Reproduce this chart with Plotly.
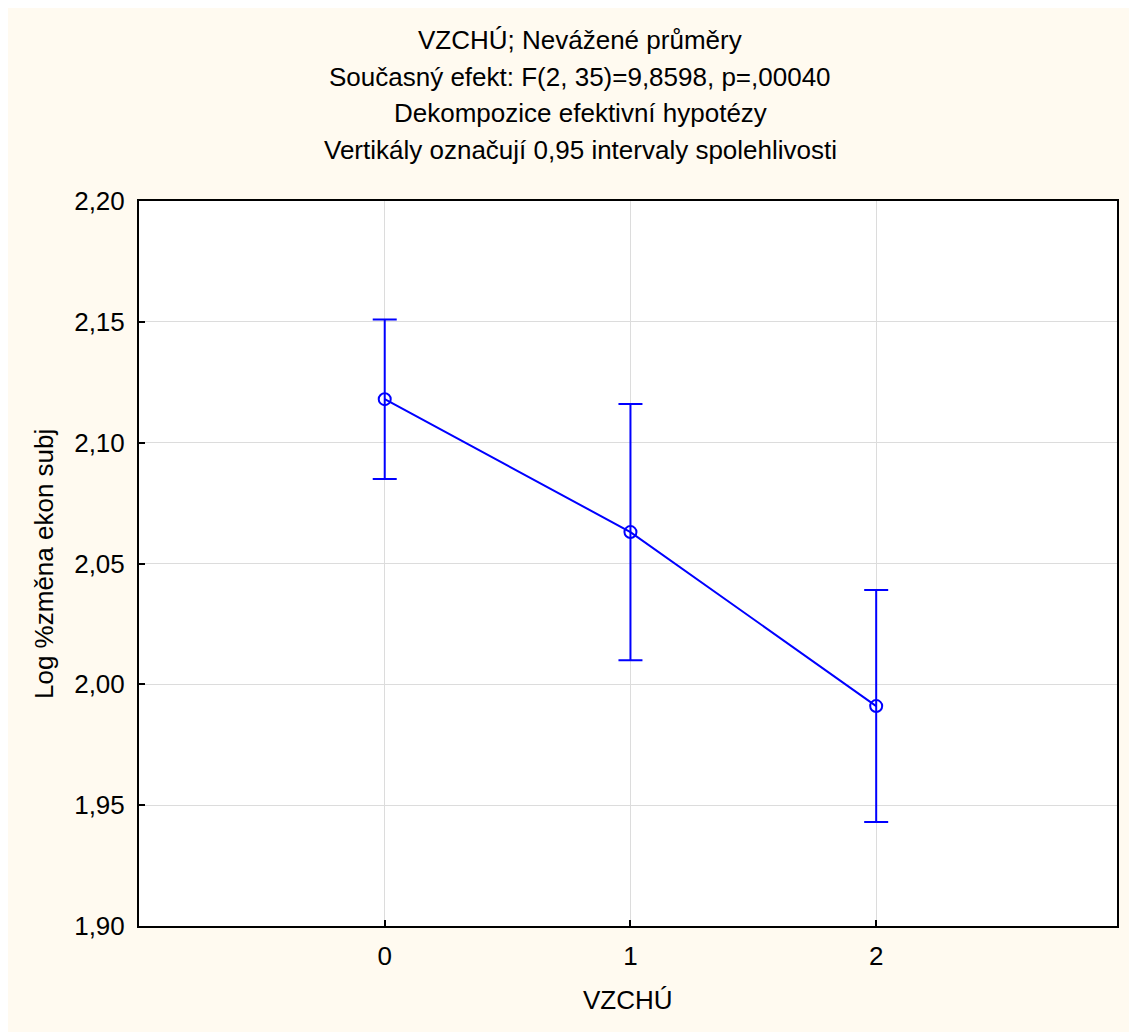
import plotly.graph_objects as go

# Data
categories = [0, 1, 2]
means = [2.118, 2.063, 1.991]
ci_half = [0.033, 0.053, 0.048]
y_ticks = [1.90, 1.95, 2.00, 2.05, 2.10, 2.15, 2.20]
title_lines = [
    "VZCHÚ; Nevážené průměry",
    "Současný efekt: F(2, 35)=9,8598, p=,00040",
    "Dekompozice efektivní hypotézy",
    "Vertikály označují 0,95 intervaly spolehlivosti",
]
x_title = "VZCHÚ"
y_title = "Log %změna ekon subj"

# page has an 8px body margin; figure coordinates = page - 8
OFF = 8
W, H = 1137, 1032
L, R, T, B = 139 - OFF, W - (1117 - OFF), 201 - OFF, H - (926 - OFF)
pw, ph = W - L - R, H - T - B
FONT = "Liberation Sans, Arial, sans-serif"
FS = 26
BLUE = "#0000FF"
CREAM = "#FFFAF0"

def px_to_paper_x(page_px):
    return (page_px - OFF - L) / pw

def py_to_paper_y(page_py):
    return (H - B - (page_py - OFF)) / ph

fig = go.Figure()
fig.add_trace(go.Scatter(
    x=categories, y=means,
    mode="lines+markers",
    line=dict(color=BLUE, width=2),
    marker=dict(symbol="circle-open", size=12, color=BLUE, line=dict(width=2, color=BLUE)),
    error_y=dict(type="data", array=ci_half, visible=True, color=BLUE, thickness=2, width=12),
    showlegend=False,
    hoverinfo="x+y",
))

annotations = []
for i, t in enumerate(title_lines):
    annotations.append(dict(
        text=t, xref="paper", yref="paper",
        x=px_to_paper_x(580), y=py_to_paper_y(40 + i * 36.7),
        xanchor="center", yanchor="middle", showarrow=False,
        font=dict(family=FONT, size=FS, color="black"),
    ))
annotations.append(dict(
    text=x_title, xref="paper", yref="paper",
    x=px_to_paper_x(628), y=py_to_paper_y(1000),
    xanchor="center", yanchor="middle", showarrow=False,
    font=dict(family=FONT, size=FS, color="black"),
))
annotations.append(dict(
    text=y_title, xref="paper", yref="paper", textangle=-90,
    x=px_to_paper_x(44), y=py_to_paper_y(564),
    xanchor="center", yanchor="middle", showarrow=False,
    font=dict(family=FONT, size=FS, color="black"),
))

fig.update_layout(
    width=W, height=H,
    margin=dict(l=L, r=R, t=T, b=B, pad=0),
    paper_bgcolor=CREAM, plot_bgcolor="white",
    separators=", ",
    font=dict(family=FONT, size=FS, color="black"),
    annotations=annotations,
    xaxis=dict(
        range=[-1.0, 2.98], tickvals=categories, ticktext=[str(c) for c in categories],
        showgrid=True, gridcolor="#DCDCDC", gridwidth=1, zeroline=False,
        showline=True, linecolor="black", linewidth=2, mirror=True,
        ticks="inside", ticklen=6, tickcolor="black", tickwidth=2,
        tickfont=dict(family=FONT, size=FS), ticklabelstandoff=6,
    ),
    yaxis=dict(
        range=[1.90, 2.20], tickvals=y_ticks, tickformat=".2f",
        showgrid=True, gridcolor="#DCDCDC", gridwidth=1, zeroline=False,
        showline=True, linecolor="black", linewidth=2, mirror=True,
        ticks="inside", ticklen=6, tickcolor="black", tickwidth=2,
        tickfont=dict(family=FONT, size=FS), ticklabelstandoff=7,
    ),
)

fig.write_html("out.html")
